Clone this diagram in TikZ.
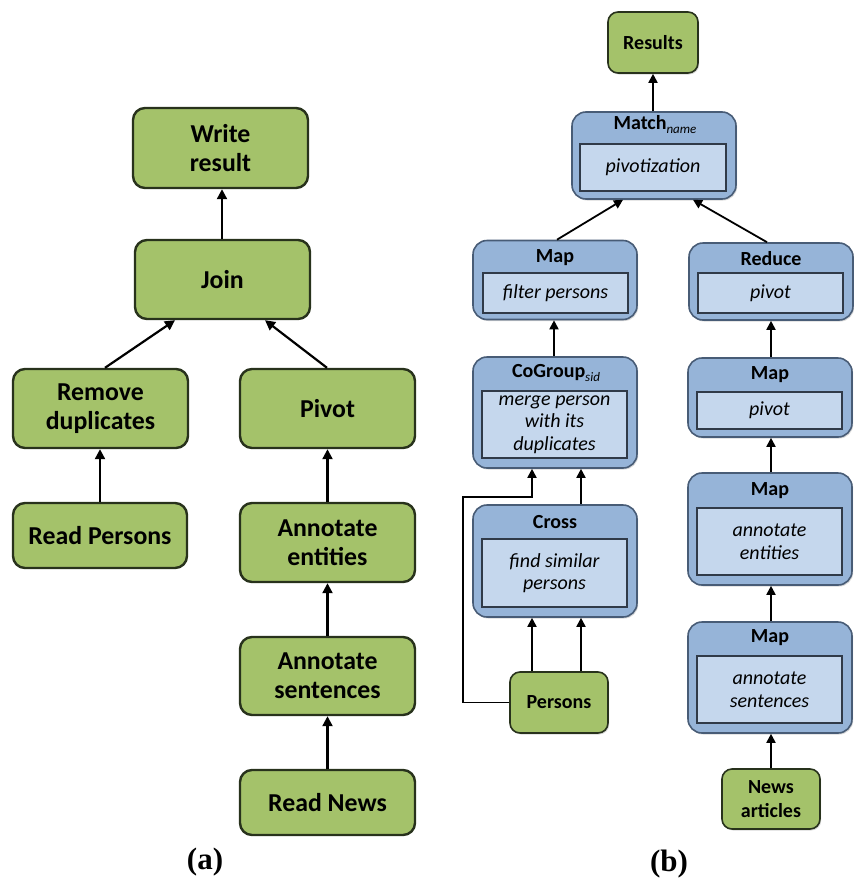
\documentclass[tikz,border=0pt]{standalone}
\usepackage{fontspec}
\setmainfont{Carlito}
\newfontfamily\capfont{Liberation Serif}
\usetikzlibrary{arrows.meta,calc,shadows}
\definecolor{gfill}{RGB}{164,194,106}
\definecolor{gline}{RGB}{40,50,28}
\definecolor{bfill}{RGB}{150,180,216}
\definecolor{bline}{RGB}{72,92,118}
\definecolor{ifill}{RGB}{197,215,237}
\definecolor{iline}{RGB}{48,58,72}
\tikzset{
  softshadow/.style={drop shadow={shadow xshift=1.2pt, shadow yshift=-1.5pt, opacity=0.25, fill=black!60}},
  gbox/.style={draw=gline, fill=gfill, line width=2.4pt, rounded corners=12pt, align=center,
    font=\fontsize{25.8}{29}\selectfont\bfseries, inner sep=0pt},
  gsmall/.style={draw=gline, fill=gfill, line width=1.6pt, rounded corners=10pt, align=center,
    font=\fontsize{20}{24}\selectfont\bfseries, inner sep=0pt, softshadow},
  bouter/.style={draw=bline, fill=bfill, line width=1.6pt, rounded corners=14pt, inner sep=0pt, softshadow},
  binner/.style={draw=iline, fill=ifill, line width=1.8pt, inner sep=0pt, align=center,
    font=\fontsize{20}{22.5}\selectfont\itshape},
  btitle/.style={font=\fontsize{20}{22}\selectfont\bfseries, inner sep=0pt},
  arra/.style={line width=2.2pt, -{Triangle[length=10pt,width=10pt]}},
  arrb/.style={line width=1.8pt, -{Triangle[length=9pt,width=9pt]}},
  captxt/.style={font=\fontsize{31}{34}\selectfont\capfont\bfseries, inner sep=0pt}
}
\newcommand{\subtxt}[1]{{\fontsize{13}{13}\selectfont\mdseries\itshape\raisebox{-4pt}{#1}}}
\begin{document}
\begin{tikzpicture}[x=1pt,y=-1pt]
\useasboundingbox (0,0) rectangle (854,881);
% ---------------- panel (a)
\node[gbox, minimum width=175pt, minimum height=80pt] (wr) at (220.5,148) {Write\\result};
\node[gbox, minimum width=175pt, minimum height=79pt] (join) at (222.5,279.5) {Join};
\node[gbox, minimum width=175pt, minimum height=79pt] (rem) at (100.5,408.5) {Remove\\duplicates};
\node[gbox, minimum width=175pt, minimum height=79pt] (piv) at (327.5,408.5) {Pivot};
\node[gbox, minimum width=174pt, minimum height=65pt] (rp) at (100,535.5) {Read Persons};
\node[gbox, minimum width=175pt, minimum height=79pt] (ae) at (327.5,542.5) {Annotate\\entities};
\node[gbox, minimum width=175pt, minimum height=78pt] (as) at (327.5,676) {Annotate\\sentences};
\node[gbox, minimum width=175pt, minimum height=65pt] (rn) at (327.5,802.5) {Read News};
\draw[arra] ([xshift=-0.5pt]join.north) -- ([xshift=-0.5pt]join.north |- wr.south);
\draw[arra] ([xshift=4.5pt]rem.north) -- ([xshift=-47.5pt]join.south);
\draw[arra] ([xshift=-0.5pt]piv.north) -- ([xshift=42.5pt]join.south);
\draw[arra] (rp.north) -- (rp.north |- rem.south);
\draw[arra] (ae.north) -- (ae.north |- piv.south);
\draw[arra] (as.north) -- (as.north |- ae.south);
\draw[arra] (rn.north) -- (rn.north |- as.south);
\node[captxt] (capa) at (205,862) {(a)};
% ---------------- panel (b)
\node[gsmall, minimum width=90pt, minimum height=61pt] (res) at (653,42.5) {Results};
% Match
\node[bouter, minimum width=164pt, minimum height=87pt] (match) at (654,155.5) {};
\node[binner, minimum width=146pt, minimum height=47pt] (matchi) at (653,167.5) {pivotization};
\node[btitle] (matcht) at (655,125) {Match\subtxt{name}};
% Map filter
\node[bouter, minimum width=164pt, minimum height=79pt] (mapf) at (555,280) {};
\node[binner, minimum width=145pt, minimum height=40pt] (mapfi) at (555.5,293) {filter persons};
\node[btitle] (mapft) at (555,258) {Map};
% Reduce
\node[bouter, minimum width=164pt, minimum height=77pt] (red) at (771,281.5) {};
\node[binner, minimum width=145pt, minimum height=40pt] (redi) at (770.5,293) {pivot};
\node[btitle] (redt) at (771,259) {Reduce};
% CoGroup
\node[bouter, minimum width=164pt, minimum height=111pt] (cog) at (555,412.5) {};
\node[binner, minimum width=145pt, minimum height=67pt] (cogi) at (554.5,424.5) {merge person\\with its\\duplicates};
\node[btitle] (cogt) at (556,373) {CoGroup\subtxt{sid}};
% Cross
\node[bouter, minimum width=164pt, minimum height=112pt] (cross) at (555,561) {};
\node[binner, minimum width=145pt, minimum height=68pt] (crossi) at (554.5,573) {find similar\\persons};
\node[btitle] (crosst) at (555,522) {Cross};
% Persons
\node[gsmall, minimum width=98pt, minimum height=61pt] (pers) at (559,702.5) {Persons};
% Map pivot
\node[bouter, minimum width=164pt, minimum height=79pt] (mapp) at (770,397.5) {};
\node[binner, minimum width=145pt, minimum height=37pt] (mappi) at (769.5,410.5) {pivot};
\node[btitle] (mappt) at (770,375) {Map};
% Map annotate entities
\node[bouter, minimum width=164pt, minimum height=112pt] (mape) at (770,529) {};
\node[binner, minimum width=145pt, minimum height=67pt] (mapei) at (769.5,541.5) {annotate\\entities};
\node[btitle] (mapet) at (770,491) {Map};
% Map annotate sentences
\node[bouter, minimum width=164pt, minimum height=111pt] (maps) at (770,677.5) {};
\node[binner, minimum width=145pt, minimum height=67pt] (mapsi) at (769.5,689.5) {annotate\\sentences};
\node[btitle] (mapst) at (770,638) {Map};
% News
\node[gsmall, minimum width=98pt, minimum height=60pt] (news) at (771,799) {News\\articles};
% connectors (b)
\draw[arrb] ([xshift=-1pt]match.north) -- ([xshift=-1pt]match.north |- res.south);
\draw[arrb] ([xshift=2pt]mapf.north) -- ([xshift=-31pt]match.south);
\draw[arrb] ([xshift=-4pt]red.north) -- ([xshift=39pt]match.south);
\draw[arrb] ([xshift=-1pt]cog.north) -- ([xshift=-1pt]cog.north |- mapf.south);
\draw[arrb] ([xshift=26pt]cross.north) -- ([xshift=26pt]cross.north |- cog.south);
\draw[arrb] ([xshift=-27pt]pers.north) -- ([xshift=-27pt]pers.north |- cross.south);
\draw[arrb] ([xshift=22pt]pers.north) -- ([xshift=22pt]pers.north |- cross.south);
\coordinate (fb) at (463,497);
\draw[arrb] (pers.west) -| (fb) -| ([xshift=-23pt]cog.south);
\draw[arrb] ([xshift=1pt]mapp.north) -- ([xshift=1pt]mapp.north |- red.south);
\draw[arrb] ([xshift=1pt]mape.north) -- ([xshift=1pt]mape.north |- mapp.south);
\draw[arrb] ([xshift=1pt]maps.north) -- ([xshift=1pt]maps.north |- mape.south);
\draw[arrb] (news.north) -- (news.north |- maps.south);
\node[captxt] (capb) at (669,864) {(b)};
\end{tikzpicture}
\end{document}
